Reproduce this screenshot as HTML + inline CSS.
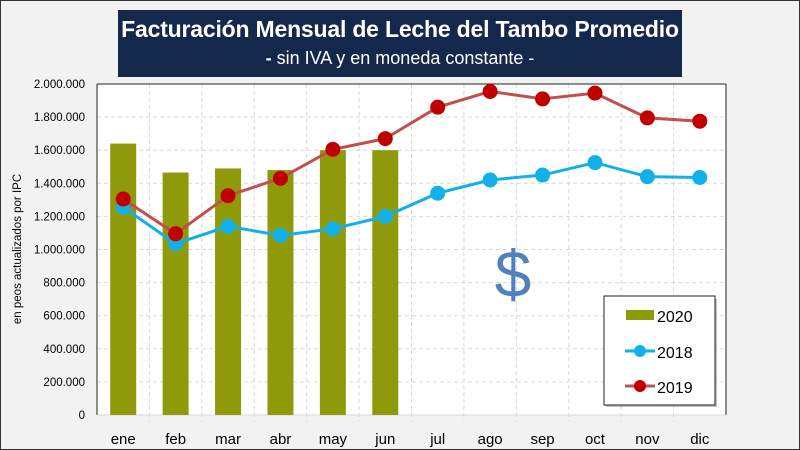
<!DOCTYPE html>
<html><head><meta charset="utf-8"><style>
body{margin:0;width:800px;height:450px;overflow:hidden;background:#f2f2f2;font-family:"Liberation Sans",sans-serif;}
#wrap{position:absolute;left:0;top:0;width:798px;height:448px;border:1px solid #333;background:#f2f2f2;}
#title{position:absolute;left:118px;top:10px;width:564px;height:67px;background:#13284a;color:#fff;text-align:center;}
#title .t{font-weight:bold;font-size:23px;margin-top:6px;white-space:nowrap;letter-spacing:-0.2px;}
#title .s{font-size:18px;margin-top:5px;white-space:nowrap;}
svg{position:absolute;left:0;top:0;}
</style></head><body>
<div id="wrap"></div>
<div id="title">
<div class="t">Facturación Mensual de Leche del Tambo Promedio</div>
<div class="s"><b>-</b> sin IVA y en moneda constante -</div>
</div>
<svg id="chart" width="800" height="450"></svg>
<script>
const months=["ene","feb","mar","abr","may","jun","jul","ago","sep","oct","nov","dic"];
const v2020=[1640000,1465000,1490000,1480000,1600000,1600000];
const v2018=[1255000,1035000,1140000,1085000,1125000,1200000,1340000,1420000,1450000,1525000,1440000,1435000];
const v2019=[1305000,1095000,1325000,1430000,1605000,1670000,1860000,1955000,1910000,1945000,1795000,1775000];
const yTicks=[0,200000,400000,600000,800000,1000000,1200000,1400000,1600000,1800000,2000000];
const yLabels=["0","200.000","400.000","600.000","800.000","1.000.000","1.200.000","1.400.000","1.600.000","1.800.000","2.000.000"];

const L=97,R=726,T=84,B=415,NS="http://www.w3.org/2000/svg";
const svg=document.getElementById('chart');
const bw=(R-L)/months.length;
const x=i=>L+bw*(i+0.5);
const y=v=>B-(v/2000000)*(B-T);
function mk(tag,a,p){const e=document.createElementNS(NS,tag);for(const k in a)e.setAttribute(k,a[k]);(p||svg).appendChild(e);return e;}
const plot=mk('rect',{x:L,y:T,width:R-L,height:B-T,fill:'#fff'});


yTicks.forEach((t,i)=>{
 const g=mk('line',{x1:L,x2:R,y1:y(t),y2:y(t),stroke:'#d9d9d9','stroke-dasharray':'4,3'});
 
 
 const tx=mk('text',{x:L-12,y:y(t)+4,'text-anchor':'end','font-size':'11.5',fill:'#000'});
 tx.textContent=yLabels[i];
 
 
});
for(let i=1;i<months.length;i++){
 const g=mk('line',{x1:L+bw*i,x2:L+bw*i,y1:T,y2:B+6,stroke:'#d9d9d9','stroke-dasharray':'4,3'});
 
 
}
mk('line',{x1:L,x2:R,y1:T,y2:T,stroke:'#222'});
mk('line',{x1:R,x2:R,y1:T,y2:B,stroke:'#222'});
mk('line',{x1:L,x2:L,y1:T,y2:B,stroke:'#222'});
mk('line',{x1:L,x2:R,y1:B,y2:B,stroke:'#d9d9d9'});
months.forEach((m,i)=>{
 const t=mk('text',{x:x(i),y:444,'text-anchor':'middle','font-size':'15',fill:'#000'});
 t.textContent=m;
 
 
});
v2020.forEach((v,i)=>{
 const r=mk('rect',{x:x(i)-13,y:y(v),width:26,height:B-y(v),fill:'#8f9a0a'});
 
 
});
function series(vals,color,line,name){
 const p=mk('polyline',{points:vals.map((v,i)=>x(i)+','+y(v)).join(' '),fill:'none',stroke:line,'stroke-width':3});
 
 
 vals.forEach((v,i)=>{
  const c=mk('circle',{cx:x(i),cy:y(v),r:7.5,fill:color});
  
  
 });
}
series(v2018,'#12b0e8','#12b0e8','2018');
series(v2019,'#c00000','#c0504d','2019');
const d=mk('text',{x:513,y:297,'text-anchor':'middle','font-size':'66',fill:'#4f81bd'});
d.textContent='$';


mk('rect',{x:606,y:299,width:111,height:108,fill:'#888',opacity:0.5});
const lg=mk('rect',{x:604,y:296,width:111,height:109,fill:'#fff',stroke:'#222'});


mk('rect',{x:626,y:310,width:28,height:10,fill:'#8f9a0a'});
mk('line',{x1:625,x2:655,y1:351,y2:351,stroke:'#12b0e8','stroke-width':3});
mk('circle',{cx:640,cy:351,r:6,fill:'#12b0e8'});
mk('line',{x1:625,x2:655,y1:386,y2:386,stroke:'#c0504d','stroke-width':3});
mk('circle',{cx:640,cy:386,r:6,fill:'#c00000'});
[['2020',322],['2018',358],['2019',393]].forEach(a=>{
 const t=mk('text',{x:657,y:a[1],'font-size':'16',fill:'#000'});
 t.textContent=a[0];
 
 
});
const yt=mk('text',{x:0,y:0,'text-anchor':'middle','font-size':'11.5',fill:'#000',transform:'translate(21,249) rotate(-90)'});
yt.textContent='en peos actualizados por IPC';


</script>
</body></html>
